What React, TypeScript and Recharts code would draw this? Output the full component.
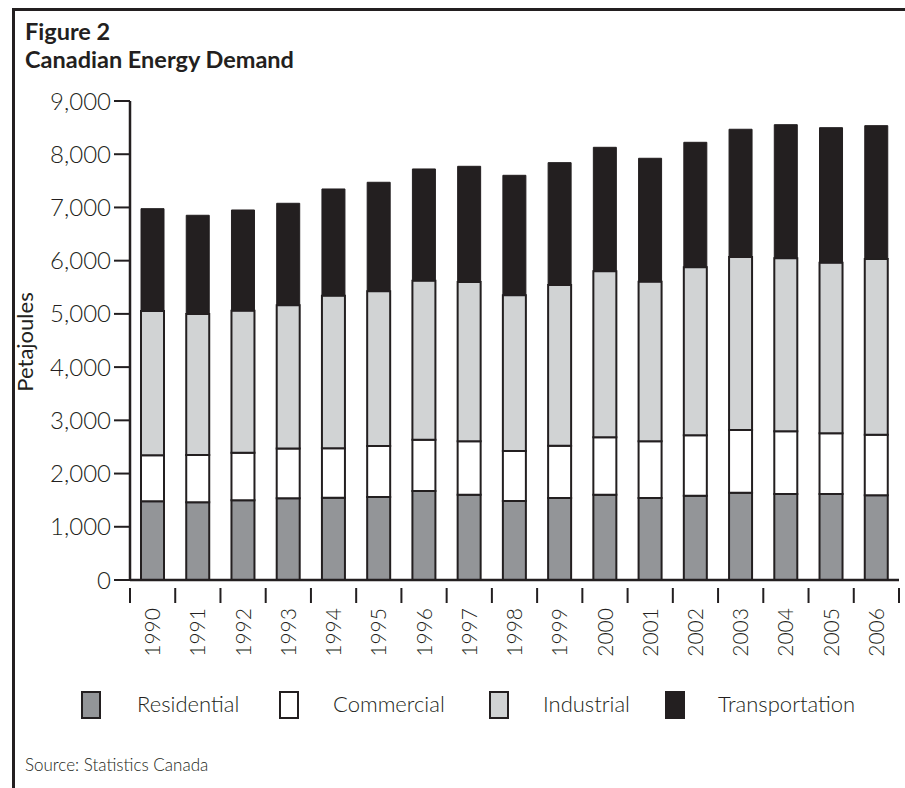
import React from 'react';
import { BarChart, Bar, XAxis, YAxis } from 'recharts';

const years = ['1990','1991','1992','1993','1994','1995','1996','1997','1998','1999','2000','2001','2002','2003','2004','2005','2006'];
const residential = [1478,1460,1497,1535,1547,1560,1672,1603,1484,1541,1603,1541,1584,1640,1616,1616,1591];
const commercial = [865,889,895,935,927,958,965,1003,940,983,1081,1065,1135,1178,1177,1140,1140];
const industrial = [2711,2649,2668,2691,2868,2906,2987,2994,2926,3019,3119,3000,3157,3251,3251,3206,3300];
const transportation = [1923,1855,1892,1917,2005,2049,2099,2173,2254,2299,2327,2318,2348,2400,2511,2537,2506];
const yTicks = [0,1000,2000,3000,4000,5000,6000,7000,8000,9000];

const seriesNames = ['Residential','Commercial','Industrial','Transportation'];
const seriesColors = ['#939598','#ffffff','#d1d3d4','#231f20'];

const data = years.map((y, i) => ({
  year: y,
  residential: residential[i],
  commercial: commercial[i],
  industrial: industrial[i],
  transportation: transportation[i],
}));

const INK = '#231f20';
const FONT = 'Lato, "Open Sans", sans-serif';
const PLOT_LEFT = 130;
const PLOT_RIGHT = 899;
const BAND = (PLOT_RIGHT - PLOT_LEFT) / years.length;

const XTick = (props: any) => {
  const { x, y, payload, index } = props;
  const left = x - BAND / 2;
  return (
    <g>
      <line x1={left} y1={y} x2={left} y2={y + 15} stroke={INK} strokeWidth={2} />
      {index === years.length - 1 && (
        <line x1={left + BAND} y1={y} x2={left + BAND} y2={y + 15} stroke={INK} strokeWidth={2} />
      )}
      <text
        x={x}
        y={y + 20}
        transform={`rotate(-90, ${x}, ${y + 20})`}
        textAnchor="end"
        dy="0.36em"
        fontFamily={FONT}
        fontWeight={300}
        fontSize={21}
        fill={INK}
      >
        {payload.value}
      </text>
    </g>
  );
};

export default function App() {
  return (
    <div style={{ position: 'absolute', left: 0, top: 0, width: 905, height: 788, background: '#fff' }}>
      <BarChart
        width={905}
        height={788}
        data={data}
        margin={{ top: 101, right: 905 - PLOT_RIGHT, bottom: 0, left: 0 }}
        barSize={23}
        barCategoryGap={0}
      >
        <XAxis
          dataKey="year"
          height={208}
          axisLine={{ stroke: INK, strokeWidth: 2.5 }}
          tickLine={false}
          tick={<XTick />}
          interval={0}
        />
        <XAxis
          xAxisId="top"
          orientation="top"
          dataKey="year"
          height={0}
          tick={false}
          tickLine={false}
          axisLine={{ stroke: INK, strokeWidth: 2.5 }}
        />
        <YAxis
          width={PLOT_LEFT}
          domain={[0, 9000]}
          ticks={yTicks}
          interval={0}
          tickSize={16}
          tickMargin={3}
          tickFormatter={(v: number) => v.toLocaleString('en-US')}
          axisLine={{ stroke: INK, strokeWidth: 2.5 }}
          tickLine={{ stroke: INK, strokeWidth: 2 }}
          tick={{ fontFamily: FONT, fontWeight: 300, fontSize: 24, fill: INK }}
        />
        <YAxis
          yAxisId="right"
          orientation="right"
          width={0}
          domain={[0, 9000]}
          tick={false}
          tickLine={false}
          axisLine={{ stroke: INK, strokeWidth: 2.5 }}
        />
        <Bar dataKey="residential" name="Residential" stackId="a" fill={seriesColors[0]} stroke={INK} strokeWidth={2} isAnimationActive={false} />
        <Bar dataKey="commercial" name="Commercial" stackId="a" fill={seriesColors[1]} stroke={INK} strokeWidth={2} isAnimationActive={false} />
        <Bar dataKey="industrial" name="Industrial" stackId="a" fill={seriesColors[2]} stroke={INK} strokeWidth={2} isAnimationActive={false} />
        <Bar dataKey="transportation" name="Transportation" stackId="a" fill={seriesColors[3]} stroke={INK} strokeWidth={1} isAnimationActive={false} />
      </BarChart>
      <svg width={905} height={788} style={{ position: 'absolute', left: 0, top: 0, pointerEvents: 'none' }}>
        <line x1={13.5} y1={9.5} x2={905} y2={9.5} stroke={INK} strokeWidth={3} />
        <line x1={13.5} y1={8} x2={13.5} y2={788} stroke={INK} strokeWidth={3} />
        <text x={25} y={40} fontFamily={FONT} fontWeight={700} fontSize={23.5} fill={INK}>Figure 2</text>
        <text x={25} y={68} fontFamily={FONT} fontWeight={700} fontSize={23.5} fill={INK}>Canadian Energy Demand</text>
        <text x={33} y={342} transform="rotate(-90, 33, 342)" textAnchor="middle" fontFamily={FONT} fontWeight={400} fontSize={22} fill={INK}>Petajoules</text>
        {seriesNames.map((n, i) => {
          const sq = [82, 280, 490, 666][i];
          const tx = [137, 333, 543, 718][i];
          return (
            <g key={n}>
              <rect x={sq} y={692} width={18} height={26} fill={seriesColors[i]} stroke={INK} strokeWidth={2} />
              <text x={tx} y={712} fontFamily={FONT} fontWeight={300} fontSize={22} fill={INK}>{n}</text>
            </g>
          );
        })}
        <text x={25} y={771} fontFamily={FONT} fontWeight={300} fontSize={17} fill={INK}>Source: Statistics Canada</text>
      </svg>
    </div>
  );
}
